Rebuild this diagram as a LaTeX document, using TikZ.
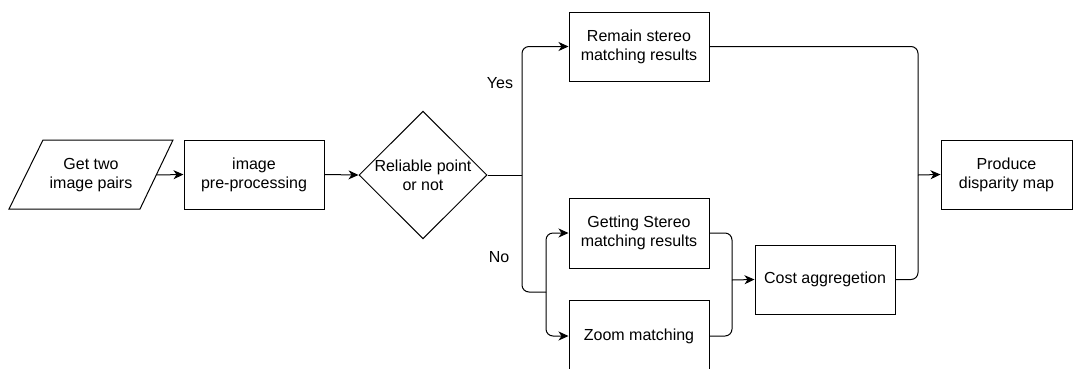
\documentclass[tikz,border=0pt]{standalone}
\usepackage{fontspec}
\setmainfont{Liberation Sans}
\usetikzlibrary{arrows.meta,shapes.geometric}
\begin{document}
\begin{tikzpicture}[x=1pt,y=-1pt,
  line width=1pt,
  every node/.style={font=\fontsize{16}{19}\selectfont, align=center},
  box/.style={draw, rectangle, minimum width=140pt, minimum height=69pt, inner sep=0pt},
  arr/.style={-{Stealth[length=10pt,width=9pt,inset=3pt]}},
  rc/.style={rounded corners=7pt},
  lbl/.style={inner sep=0pt}
]
\path[use as bounding box, clip] (0,0) rectangle (1073,368);

% input parallelogram
\draw (43,140) -- (173,140) -- (140,209) -- (9,209) -- cycle;
\node[inner sep=0pt] (in) at (91,175) {Get two\\image pairs};
\coordinate (inR) at (156.5,175);

\node[box] (pre) at (254,174.5) {image\\pre-processing};
\node[draw, diamond, minimum width=128pt, minimum height=122pt, inner sep=0pt] (dia) at (423,175) {Reliable point\\or not};

\node[box] (remain) at (639,46.5) {Remain stereo\\matching results};
\node[box, minimum height=70pt] (get) at (639,233) {Getting Stereo\\matching results};
\node[box, minimum height=72pt] (zoom) at (639,336) {Zoom matching};
\node[box] (cost) at (825,279.5) {Cost aggregetion};
\node[box, minimum width=131pt] (prod) at (1006.5,174.5) {Produce\\disparity map};

\coordinate (j1) at (522,175);
\coordinate (j2) at (546,292);
\coordinate (j3) at (732,280);
\coordinate (j4) at (918,175);

\draw[arr] (inR) -- (pre.west);
\draw[arr] (pre.east) -- (dia.west);
\draw (dia.east) -- (j1);
\draw[arr, rc] (j1) |- (remain.west);
\draw[rc] (j1) |- (j2);
\draw[arr, rc] (j2) |- (get.west);
\draw[arr, rc] (j2) |- (zoom.west);
\draw[rc] (get.east) -| (j3);
\draw[rc] (zoom.east) -| (j3);
\draw[arr] (j3) -- (cost.west);
\draw[rc] (remain.east) -| (j4);
\draw[rc] (cost.east) -| (j4);
\draw[arr] (j4) -- (prod.west);

\node[lbl] (yes) at (500,83) {Yes};
\node[lbl] (no) at (499,257) {No};
\end{tikzpicture}
\end{document}
